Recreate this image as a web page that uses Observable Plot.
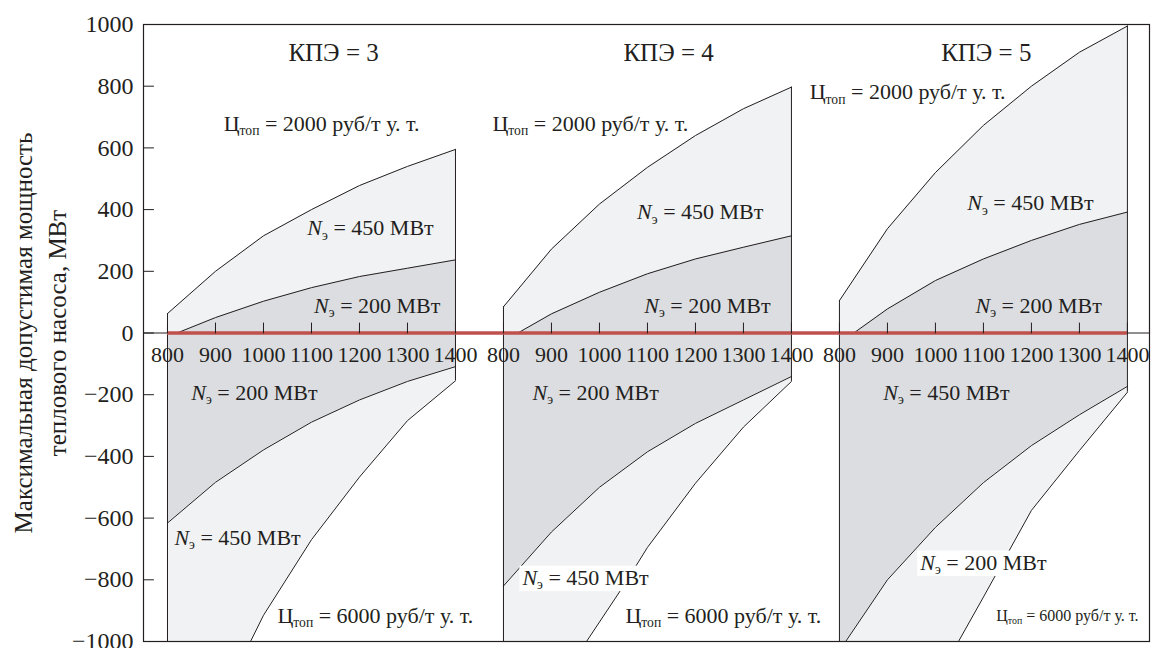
<!DOCTYPE html>
<html>
<head>
<meta charset="utf-8">
<script src="https://cdn.jsdelivr.net/npm/d3@7"></script>
<script src="https://cdn.jsdelivr.net/npm/@observablehq/plot@0.6"></script>
<style>
  html, body { margin: 0; padding: 0; background: #fff; }
  svg, svg text, svg tspan { font-family: "Liberation Serif", "Times New Roman", Tinos, "DejaVu Serif", "Noto Serif", serif !important; }
</style>
</head>
<body>
<div id="chart"></div>
<script>
// ---------- data ----------
const panelKpe = [3, 4, 5];
const tickValues = [800, 900, 1000, 1100, 1200, 1300, 1400];
const yTicks = [-1000, -800, -600, -400, -200, 0, 200, 400, 600, 800, 1000];

// Цтоп = 2000, upper boundary (Nэ = 450 МВт), at tickValues
const upper450 = [
  [63, 200, 315, 400, 478, 540, 595],
  [85, 272, 418, 537, 640, 727, 797],
  [105, 338, 520, 673, 800, 910, 995]
];
// Цтоп = 2000, inner boundary (Nэ = 200 МВт): starts at 0, then values at 900..1400
const upper200Start = [820, 830, 830];
const upper200 = [
  [50, 103, 147, 183, 210, 237],
  [62, 132, 192, 240, 278, 315],
  [78, 170, 240, 300, 352, 392]
];
// Цтоп = 6000, boundary of the dark region
const lowerDarkX = [
  [800, 900, 1000, 1100, 1200, 1300, 1400],
  [800, 900, 1000, 1100, 1200, 1300, 1400],
  [813, 900, 1000, 1100, 1200, 1300, 1400]
];
const lowerDarkY = [
  [-616, -484, -379, -289, -217, -157, -109],
  [-820, -645, -500, -385, -293, -217, -141],
  [-1000, -800, -630, -485, -365, -265, -173]
];
// Цтоп = 6000, outer boundary of the light region
const steepX = [
  [973, 1000, 1100, 1200, 1300, 1400],
  [973, 1050, 1100, 1200, 1300, 1400],
  [1048, 1100, 1200, 1300, 1400]
];
const steepY = [
  [-1000, -915, -670, -467, -284, -155],
  [-1000, -820, -695, -487, -305, -157],
  [-1000, -856, -575, -381, -192]
];

// annotations: [panel, x, y, text]
const labels = [
  [0, 1121, 679, "Ц_топ = 2000 руб/т у. т."],
  [0, 1223, 339, "N_э = 450 МВт"],
  [0, 1237, 89, "N_э = 200 МВт"],
  [0, 981, -193, "N_э = 200 МВт"],
  [0, 946, -663, "N_э = 450 МВт"],
  [0, 1233, -916, "Ц_топ = 6000 руб/т у. т."],
  [1, 981, 679, "Ц_топ = 2000 руб/т у. т."],
  [1, 1210, 391, "N_э = 450 МВт"],
  [1, 1225, 89, "N_э = 200 МВт"],
  [1, 992, -193, "N_э = 200 МВт"],
  [1, 1258, -916, "Ц_топ = 6000 руб/т у. т."],
  [2, 942, 780, "Ц_топ = 2000 руб/т у. т."],
  [2, 1198, 420, "N_э = 450 МВт"],
  [2, 1215, 89, "N_э = 200 МВт"],
  [2, 1023, -193, "N_э = 450 МВт"]
];
const bgLabels = [
  [1, 971, -793, "N_э = 450 МВт"],
  [2, 1100, -744, "N_э = 200 МВт"]
];
const smallLabels = [
  [2, 1275, -916, "Ц_топ = 6000 руб/т у. т."]
];
const titleX = [1146, 1144, 1106];
const titleY = 906;
const yTitle = "Максимальная допустимая мощность\nтеплового насоса, МВт";

// ---------- helpers ----------
const ink = "#231f20";
const light = "#f1f2f4";
const dark = "#dcdde0";
const red = "#c0504d";
const serif = "Liberation Serif, Times New Roman, Tinos, DejaVu Serif, serif";
const panelGap = 700;
const U = (p, x) => x - 800 + panelGap * p;

const upper450Rows = panelKpe.flatMap((k, p) => tickValues.map((x, i) => ({p, u: U(p, x), v: upper450[p][i]})));
const upper200Rows = panelKpe.flatMap((k, p) => [{p, u: U(p, upper200Start[p]), v: 0}]
  .concat(tickValues.slice(1).map((x, i) => ({p, u: U(p, x), v: upper200[p][i]}))));
const lowerDarkRows = panelKpe.flatMap((k, p) => lowerDarkX[p].map((x, i) => ({p, u: U(p, x), v: lowerDarkY[p][i]})));
const steepRows = panelKpe.flatMap((k, p) => steepX[p].map((x, i) => ({p, u: U(p, x), v: steepY[p][i]})));
const panelRows = panelKpe.map((k, p) => ({
  p, k,
  u1: U(p, tickValues[0]), u2: U(p, tickValues[tickValues.length - 1]),
  top1: upper450[p][0], top2: upper450[p][upper450[p].length - 1],
  bot2: steepY[p][steepY[p].length - 1]
}));
const xTickRows = panelKpe.flatMap((k, p) => tickValues.map(x => ({u: U(p, x), label: String(x)})));
const labRows = (a, bg) => a.map(([p, x, y, t]) => ({u: U(p, x), v: y, t: (bg ? "#" : "") + t}));

const line = {draw(ctx, l) { ctx.moveTo(0, 0); ctx.lineTo(0, -l); }};
const fmt = d => d < 0 ? "\u2212" + Math.abs(d) : String(d);

const chart = Plot.plot({
  width: 1152,
  height: 648,
  marginLeft: 143,
  marginRight: 3,
  marginTop: 24,
  marginBottom: 7,
  x: {domain: [-50, 2046], axis: null},
  y: {domain: [-1000, 1000]},
  style: {color: ink, background: "#fff", overflow: "visible"},
  marks: [
    // upper regions
    Plot.areaY(upper450Rows, {x: "u", y1: 0, y2: "v", z: "p", fill: light}),
    Plot.areaY(upper200Rows, {x: "u", y1: 0, y2: "v", z: "p", fill: dark}),
    // lower regions
    Plot.rect(panelRows, {x1: "u1", x2: "u2", y1: -1000, y2: 0, fill: dark}),
    Plot.areaY(lowerDarkRows, {x: "u", y1: -1000, y2: "v", z: "p", fill: light}),
    Plot.areaY(steepRows, {x: "u", y1: -1000, y2: "v", z: "p", fill: "#fff"}),
    // boundary lines
    Plot.line(upper450Rows, {x: "u", y: "v", z: "p", stroke: ink, strokeWidth: 1}),
    Plot.line(upper200Rows, {x: "u", y: "v", z: "p", stroke: ink, strokeWidth: 1}),
    Plot.line(lowerDarkRows, {x: "u", y: "v", z: "p", stroke: ink, strokeWidth: 1}),
    Plot.line(steepRows, {x: "u", y: "v", z: "p", stroke: ink, strokeWidth: 1}),
    Plot.ruleX(panelRows, {x: "u1", y1: -1000, y2: "top1", stroke: ink, strokeWidth: 1}),
    Plot.ruleX(panelRows, {x: "u2", y1: "bot2", y2: "top2", stroke: ink, strokeWidth: 1}),
    // zero axis
    Plot.ruleY([0], {stroke: ink, strokeWidth: 1}),
    Plot.ruleY([0], {x1: panelRows[0].u1, x2: panelRows[2].u2, stroke: red, strokeWidth: 3.5}),
    Plot.vector(xTickRows, {x: "u", y: 0, length: 10, rotate: 0, anchor: "start", shape: line, stroke: ink, fill: "none", strokeWidth: 1}),
    Plot.text(xTickRows, {x: "u", y: 0, text: "label", dy: 22, fontSize: 22, fontFamily: serif, fill: ink}),
    // y axis
    Plot.vector(yTicks, {y: d => d, frameAnchor: "left", length: 10, rotate: 90, anchor: "start", shape: line, stroke: ink, fill: "none", strokeWidth: 1}),
    Plot.axisY(yTicks, {anchor: "left", tickSize: 0, tickPadding: 10, fontSize: 24, fontFamily: serif, tickFormat: fmt, label: null}),
    Plot.text([yTitle], {frameAnchor: "left", textAnchor: "middle", rotate: -90, dx: -105, fontSize: 25, lineHeight: 1.36, fontFamily: serif, fill: ink}),
    // panel titles
    Plot.text(panelRows, {x: d => U(d.p, titleX[d.p]), y: titleY, text: d => "КПЭ = " + d.k, fontSize: 25, fontFamily: serif, fill: ink}),
    // annotations
    Plot.text(labRows(labels), {x: "u", y: "v", text: "t", fontSize: 22, fontFamily: serif, fill: ink}),
    Plot.text(labRows(bgLabels, true), {x: "u", y: "v", text: "t", fontSize: 22, fontFamily: serif, fill: ink}),
    Plot.text(labRows(smallLabels), {x: "u", y: "v", text: "t", fontSize: 16, fontFamily: serif, fill: ink}),
    Plot.frame({stroke: ink, strokeWidth: 1.2})
  ]
});

document.getElementById("chart").append(chart);

// ---------- subscripts / italic for annotation text ----------
const NS = "http://www.w3.org/2000/svg";
chart.querySelectorAll("text").forEach(el => {
  const s = el.textContent;
  const m = s.match(/^(#?)([NЦ])_(\S+)(.*)$/);
  if (!m) return;
  const fs = parseFloat(getComputedStyle(el).fontSize);
  el.textContent = "";
  const t1 = document.createElementNS(NS, "tspan");
  t1.textContent = m[2];
  if (m[2] === "N") t1.setAttribute("font-style", "italic");
  const t2 = document.createElementNS(NS, "tspan");
  t2.textContent = m[3];
  t2.setAttribute("font-size", fs * 0.62);
  t2.setAttribute("dy", fs * 0.2);
  const t3 = document.createElementNS(NS, "tspan");
  t3.textContent = m[4];
  t3.setAttribute("dy", -fs * 0.2);
  el.append(t1, t2, t3);
  if (m[1] === "#") {
    const b = el.getBBox();
    const r = document.createElementNS(NS, "rect");
    r.setAttribute("x", b.x - 2);
    r.setAttribute("y", b.y + 1);
    r.setAttribute("width", b.width + 4);
    r.setAttribute("height", b.height - 2);
    r.setAttribute("fill", "#fff");
    if (el.getAttribute("transform")) r.setAttribute("transform", el.getAttribute("transform"));
    el.parentNode.insertBefore(r, el);
  }
});
</script>
</body>
</html>
